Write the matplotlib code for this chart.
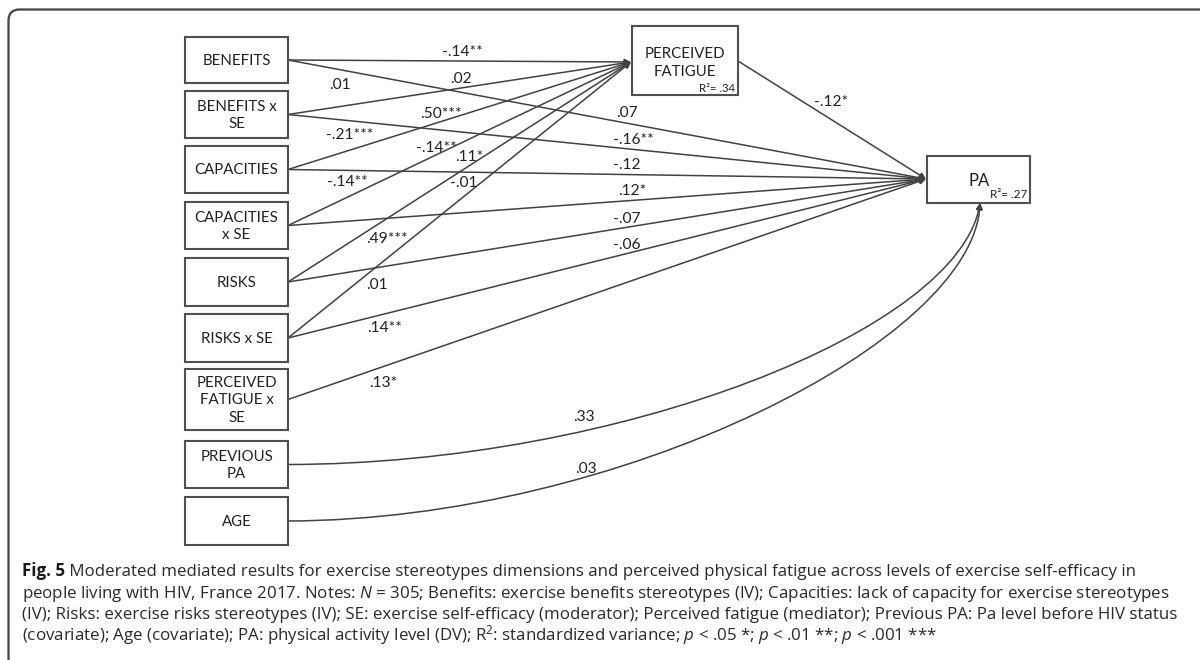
import matplotlib
matplotlib.use("Agg")
import matplotlib.pyplot as plt
from matplotlib.patches import Rectangle, FancyArrowPatch, FancyBboxPatch
from matplotlib.path import Path

# boxes on the left, top to bottom
predictors = ["BENEFITS", "BENEFITS x\nSE", "CAPACITIES", "CAPACITIES\nx SE",
              "RISKS", "RISKS x SE", "PERCEIVED\nFATIGUE x\nSE", "PREVIOUS\nPA", "AGE"]
mediator = "PERCEIVED\nFATIGUE"
outcome = "PA"
mediator_r2 = "R²= .34"
outcome_r2 = "R²= .27"

# which left boxes go to the mediator, straight to PA, or curved to PA (covariates)
to_mediator = [0, 1, 2, 3, 4, 5]
to_outcome = [0, 1, 2, 3, 4, 5, 6]
covariates = [7, 8]

# path coefficients as printed on the figure
coefs = ["-.14**", ".01", ".02", ".50***", "-.21***", "-.14**", ".11*", "-.14**",
         "-.01", ".49***", ".07", "-.16**", "-.12", ".12*", "-.07", "-.06",
         ".01", ".14**", ".13*", ".33", ".03", "-.12*"]

fig_label = "Fig. 5"
caption = [
    r" Moderated mediated results for exercise stereotypes dimensions and perceived physical fatigue across levels of exercise self-efficacy in",
    r"people living with HIV, France 2017. Notes: $\mathit{N}$ = 305; Benefits: exercise benefits stereotypes (IV); Capacities: lack of capacity for exercise stereotypes",
    r"(IV); Risks: exercise risks stereotypes (IV); SE: exercise self-efficacy (moderator); Perceived fatigue (mediator); Previous PA: Pa level before HIV status",
    r"(covariate); Age (covariate); PA: physical activity level (DV); R$^{2}$: standardized variance; $\mathit{p}$ < .05 *; $\mathit{p}$ < .01 **; $\mathit{p}$ < .001 ***",
]

# ---- layout (pixels, y down) ----
box_x0, box_x1 = 185, 288
box_y = [(37, 83), (91, 138), (146, 193), (202, 249), (258, 306),
         (314, 362), (369, 430), (441, 488), (497, 545)]
med_box = (632, 26, 738, 95)
out_box = (927, 156, 1030, 203)
med_tip = (631, 62)
out_tip = (926, 179)
out_bottom = (980, 203)
coef_xy = [(462, 52), (340, 85), (461, 79), (441, 114), (350, 135), (436, 148),
           (469, 157), (347, 182), (464, 183), (387, 239), (627, 113), (633, 140),
           (627, 165), (632, 191), (627, 219), (627, 245), (377, 285), (385, 328),
           (383, 383), (584, 417), (586, 469), (831, 102)]
curve_ctrl = [((620, 464), (960, 330)), ((620, 520), (975, 340))]

plt.rcParams["mathtext.fontset"] = "custom"
plt.rcParams["mathtext.rm"] = "Open Sans"
plt.rcParams["mathtext.it"] = "Open Sans:italic"
plt.rcParams["mathtext.bf"] = "Open Sans:bold"

node_font = "Lato"
ink = "#222222"
line_col = "#424242"
edge_col = "#505050"

fig = plt.figure(figsize=(12, 6.6), dpi=100)
ax = fig.add_axes([0, 0, 1, 1])
ax.set_xlim(0, 1200)
ax.set_ylim(660, 0)
ax.axis("off")

frame = FancyBboxPatch((8.5, 9.5), 1260, 720, boxstyle="round,pad=0,rounding_size=11",
                       fill=False, ec="#444444", lw=1.6)
ax.add_patch(frame)


def box(x0, y0, x1, y1):
    ax.add_patch(Rectangle((x0, y0), x1 - x0, y1 - y0, fill=False, ec=edge_col, lw=1.5, zorder=3))


def arrow(a, b):
    ax.add_patch(FancyArrowPatch(a, b, arrowstyle="-|>", mutation_scale=9, shrinkA=0, shrinkB=0,
                                 color=line_col, lw=1.1, zorder=2))


# left boxes
for name, (y0, y1) in zip(predictors, box_y):
    box(box_x0, y0, box_x1, y1)
    ax.text((box_x0 + box_x1) / 2, (y0 + y1) / 2 + 1, name, ha="center", va="center",
            fontsize=10.8, family=node_font, color=ink, linespacing=1.3)

# mediator and outcome boxes
box(*med_box)
ax.text(685, 63, mediator, ha="center", va="center", fontsize=10.8, family=node_font,
        color=ink, linespacing=1.3)
ax.text(735, 88, mediator_r2, ha="right", va="center", fontsize=8.2, family=node_font, color=ink)
box(*out_box)
ax.text(979, 181, outcome, ha="center", va="center", fontsize=12, family=node_font, color=ink)
ax.text(1027, 195, outcome_r2, ha="right", va="center", fontsize=8.4, family=node_font, color=ink)

# straight paths
for i in to_mediator:
    arrow((box_x1, sum(box_y[i]) / 2), med_tip)
for i in to_outcome:
    arrow((box_x1, sum(box_y[i]) / 2), out_tip)
arrow((med_box[2], 61), out_tip)

# curved covariate paths
for i, (c1, c2) in zip(covariates, curve_ctrl):
    start = (box_x1, sum(box_y[i]) / 2)
    p = Path([start, c1, c2, out_bottom], [Path.MOVETO, Path.CURVE4, Path.CURVE4, Path.CURVE4])
    ax.add_patch(FancyArrowPatch(path=p, arrowstyle="-|>", mutation_scale=9,
                                 color=line_col, lw=1.1, zorder=2))

# coefficient labels
for s, (x, y) in zip(coefs, coef_xy):
    ax.text(x, y, s, ha="center", va="center", fontsize=11.2, family=node_font, color=ink, zorder=4)

# caption: bold figure label, then the rest right after it
cap_size = 12.2
lbl = ax.text(22, 576, fig_label, ha="left", va="baseline", fontsize=cap_size,
              family="Open Sans", fontweight="bold", color="#1a1a1a")
renderer = fig.canvas.get_renderer()
bb = lbl.get_window_extent(renderer=renderer)
x_after = ax.transData.inverted().transform((bb.x1, bb.y0))[0]
for k, line in enumerate(caption):
    x0 = x_after if k == 0 else 22
    ax.text(x0, 576 + k * 21.5, line, ha="left", va="baseline", fontsize=cap_size,
            family="Open Sans", color="#2a2a2a")

fig.savefig("out.png", dpi=100, facecolor="white")
